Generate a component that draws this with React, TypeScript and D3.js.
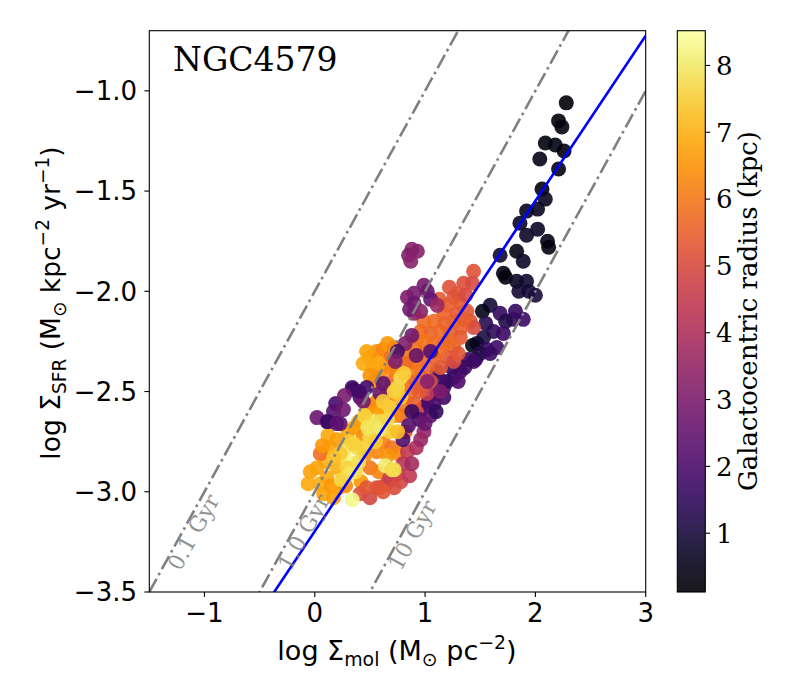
import React from 'react';
import * as d3 from 'd3';

// each point: [log Σmol, log ΣSFR, galactocentric radius (kpc)]
const nucleus = [
  [2.28, -1.06, 0.2], [2.21, -1.15, 0.3], [2.24, -1.18, 0.35], [2.09, -1.26, 0.3],
  [2.18, -1.27, 0.4], [2.26, -1.3, 0.3], [2.04, -1.34, 0.5], [2.21, -1.39, 0.4],
  [2.06, -1.49, 0.35], [2.09, -1.54, 0.6], [2.02, -1.59, 0.6], [1.92, -1.6, 0.55],
  [1.86, -1.66, 0.65], [2.02, -1.69, 0.65], [1.92, -1.72, 0.7], [2.11, -1.75, 0.5],
  [2.12, -1.78, 0.35], [1.83, -1.8, 0.4], [1.68, -1.82, 0.75], [1.89, -1.85, 0.7],
  [1.71, -1.91, 0.45], [1.73, -1.93, 0.3], [1.83, -1.95, 0.6], [1.92, -1.95, 0.8],
  [1.85, -2.0, 0.9], [1.94, -2.0, 0.95], [2.0, -2.02, 1.0],
];

const innerRing = [
  [1.59, -2.07, 0.9], [1.52, -2.1, 0.5], [1.68, -2.11, 1.5], [1.82, -2.1, 1.5],
  [1.8, -2.14, 1.6], [1.89, -2.14, 1.7], [1.73, -2.15, 1.2], [1.55, -2.16, 1.3],
  [1.62, -2.2, 1.4], [1.71, -2.21, 1.6], [1.53, -2.23, 1.1], [1.47, -2.26, 0.9],
  [1.56, -2.29, 1.5], [1.65, -2.28, 1.7], [1.43, -2.27, 0.5], [1.39, -2.34, 1.6],
  [1.46, -2.34, 1.8], [1.5, -2.31, 1.2], [1.59, -2.31, 1.6], [1.44, -2.35, 1.7],
  [1.32, -2.4, 1.9], [1.26, -2.43, 1.8], [1.17, -2.48, 2.0], [1.17, -2.53, 1.7],
  [1.11, -2.51, 2.1], [1.02, -2.56, 2.2], [1.11, -2.4, 2.3], [0.99, -2.58, 1.9],
  [1.2, -2.45, 1.5], [1.05, -2.62, 2.4], [1.36, -2.38, 1.7], [1.3, -2.45, 2.0],
  [1.08, -2.56, 2.0], [1.13, -2.44, 1.8], [1.1, -2.6, 1.5], [1.24, -2.38, 1.6],
];

const midDisk = [
  [1.44, -1.9, 5.2], [1.35, -1.96, 5.1], [1.43, -1.96, 5.0], [1.3, -2.01, 5.3],
  [1.26, -2.03, 5.2], [1.32, -2.06, 5.4], [1.2, -2.07, 5.5], [1.38, -2.1, 5.3],
  [1.41, -2.15, 5.2], [1.44, -2.18, 5.0], [1.33, -2.18, 5.5], [1.26, -2.15, 5.6],
  [1.17, -2.11, 5.6], [1.08, -2.15, 5.7], [0.99, -2.15, 5.8], [0.96, -2.2, 5.7],
  [1.05, -2.21, 5.6], [1.14, -2.2, 5.7], [1.23, -2.21, 5.5], [1.32, -2.23, 5.4],
  [1.26, -2.28, 5.6], [1.17, -2.26, 5.8], [1.08, -2.26, 5.7], [0.99, -2.25, 5.9],
  [0.93, -2.23, 6.0], [0.9, -2.28, 5.9], [0.99, -2.31, 5.7], [1.08, -2.33, 5.6],
  [1.2, -2.33, 5.3], [1.26, -2.35, 5.0], [1.14, -2.38, 5.4], [1.02, -2.38, 5.6],
  [0.93, -2.36, 5.8], [0.87, -2.35, 6.1], [0.84, -2.31, 6.0], [0.96, -2.43, 5.5],
  [1.05, -2.45, 5.0], [0.9, -2.48, 5.4], [1.02, -2.51, 4.4], [1.14, -2.5, 3.0],
  [1.13, -2.04, 5.4], [1.22, -1.98, 5.2], [1.37, -2.02, 5.0], [1.18, -2.16, 5.6],
  [1.29, -2.11, 5.4], [1.35, -2.14, 5.5], [1.22, -2.25, 5.7], [1.12, -2.3, 5.8],
  [1.3, -2.31, 5.3],
];

const armPurple = [
  [0.99, -1.97, 2.8], [0.9, -2.01, 2.9], [0.84, -2.03, 3.0], [0.9, -2.06, 2.7],
  [1.02, -2.0, 2.6], [1.05, -2.04, 2.5], [0.96, -2.1, 3.3], [0.9, -2.11, 3.4],
  [1.11, -2.07, 3.6], [0.86, -2.09, 2.8], [0.88, -1.79, 3.2], [0.85, -1.82, 3.1],
  [0.93, -1.8, 3.2], [0.87, -1.85, 3.3], [0.88, -2.22, 2.7], [0.92, -2.32, 2.5],
  [1.05, -2.3, 2.2], [0.82, -2.26, 3.1],
];

const outerOrange = [
  [0.5, -2.33, 6.6], [0.56, -2.3, 6.5], [0.62, -2.29, 6.3], [0.53, -2.38, 6.7],
  [0.59, -2.41, 6.4], [0.65, -2.36, 6.2], [0.47, -2.3, 6.8], [0.44, -2.36, 6.9],
  [0.69, -2.33, 5.8], [0.72, -2.55, 6.2], [0.53, -2.57, 6.5], [0.65, -2.58, 6.3],
  [0.47, -2.6, 6.6], [0.56, -2.55, 6.4], [0.4, -2.65, 6.8], [0.3, -2.7, 6.9],
  [0.36, -2.68, 6.7], [0.44, -2.72, 6.4], [0.62, -2.75, 6.1], [0.7, -2.78, 5.9],
  [0.78, -2.62, 5.7], [0.82, -2.7, 5.5], [0.56, -2.8, 6.3], [0.45, -2.82, 6.5],
  [0.5, -2.88, 6.0], [0.42, -2.95, 6.6], [0.26, -2.92, 6.9], [0.2, -2.88, 7.0],
  [0.14, -2.78, 6.8], [0.1, -2.85, 7.0], [0.05, -2.81, 5.8], [-0.04, -2.9, 6.8],
  [-0.06, -2.96, 6.9], [0.05, -2.96, 7.0], [0.11, -2.93, 6.9], [0.08, -3.01, 6.8],
  [0.17, -3.03, 6.7], [0.15, -2.97, 6.6], [0.22, -2.98, 6.8], [0.28, -2.97, 6.4],
  [0.58, -2.9, 6.2], [0.76, -2.81, 6.3], [0.66, -2.82, 6.5], [0.7, -2.45, 5.8],
  [0.85, -2.52, 5.9], [0.8, -2.58, 6.0], [0.9, -2.56, 5.5], [0.66, -2.5, 6.2],
  [0.92, -2.4, 6.0], [0.82, -2.36, 5.7], [0.74, -2.4, 6.0], [0.86, -2.45, 5.6],
  [0.95, -2.5, 5.4], [0.68, -2.38, 6.3], [0.8, -2.48, 6.1], [0.92, -2.6, 5.2],
  [0.72, -2.62, 6.4], [0.64, -2.62, 6.6], [0.6, -2.6, 6.8], [0.12, -2.72, 6.9],
  [0.2, -2.74, 6.7], [0.02, -2.88, 6.8], [0.07, -2.77, 6.6], [0.55, -2.45, 6.2],
  [0.5, -2.42, 6.5], [0.58, -2.36, 6.9], [0.66, -2.26, 6.6], [0.72, -2.28, 6.3],
];

const outerRed = [
  [0.41, -3.01, 5.1], [0.5, -3.03, 4.9], [0.56, -2.98, 5.0], [0.65, -2.96, 4.8],
  [0.59, -2.98, 5.2], [0.75, -2.91, 4.7], [0.84, -2.8, 4.5], [0.68, -2.93, 4.6],
  [0.47, -2.98, 5.3], [0.8, -2.86, 4.2], [0.78, -2.95, 4.9], [0.86, -2.92, 4.4],
  [0.92, -2.78, 4.0], [0.72, -2.98, 5.0], [0.62, -3.0, 5.3],
];

const scatteredPurple = [
  [0.75, -2.3, 1.9], [0.73, -2.35, 3.0], [0.62, -2.46, 2.4], [0.59, -2.51, 2.6],
  [0.47, -2.48, 1.8], [0.35, -2.49, 1.7], [0.41, -2.53, 2.0], [0.44, -2.55, 2.8],
  [0.95, -2.64, 2.0], [0.99, -2.7, 3.5], [0.96, -2.74, 3.6], [0.88, -2.86, 3.8],
  [0.85, -2.67, 2.2], [0.8, -2.74, 2.0], [0.88, -2.6, 1.6], [0.02, -2.63, 2.6],
  [0.11, -2.65, 2.5], [0.19, -2.56, 1.9], [0.17, -2.6, 2.2], [0.34, -2.48, 1.7],
  [0.4, -2.5, 1.8], [0.26, -2.59, 2.7], [0.23, -2.66, 2.4], [0.12, -2.65, 1.6],
  [0.2, -2.66, 2.3], [0.27, -2.52, 2.9], [1.0, -2.66, 2.6], [1.02, -2.45, 3.2],
];

const outerYellow = [
  [0.78, -2.43, 7.8], [0.75, -2.48, 7.7], [0.81, -2.41, 7.5], [0.78, -2.53, 7.4],
  [0.68, -2.58, 7.6], [0.52, -2.65, 7.9], [0.59, -2.65, 7.8], [0.68, -2.7, 7.5],
  [0.75, -2.7, 7.3], [0.53, -2.7, 7.9], [0.59, -2.69, 8.0], [0.5, -2.73, 7.7],
  [0.38, -2.78, 7.8], [0.31, -2.75, 7.4], [0.26, -2.8, 7.9], [0.31, -2.85, 8.2],
  [0.37, -2.9, 7.7], [0.29, -2.88, 7.6], [0.32, -2.91, 7.9], [0.23, -2.81, 7.5],
  [0.17, -2.83, 7.3], [0.35, -2.76, 7.6], [0.34, -3.04, 8.3], [0.64, -2.87, 8.1],
  [0.7, -2.89, 7.6], [0.72, -2.89, 7.8], [0.45, -2.62, 7.6], [0.62, -2.55, 7.5],
  [0.44, -2.78, 7.6], [0.4, -2.85, 7.8], [0.55, -2.75, 7.5], [0.66, -2.64, 7.7],
  [0.72, -2.5, 7.6], [0.48, -2.68, 7.9], [0.24, -2.94, 7.7],
];

const depletionTimes = [0.1, 1, 10];
const depletionLabels = ['0.1 Gyr', '1.0 Gyr', '10 Gyr'];
const fitSlope = 0.824;
const fitIntercept = -3.197;

const xTicks = [-1, 0, 1, 2, 3];
const yTicks = [-3.5, -3.0, -2.5, -2.0, -1.5, -1.0];
const radiusTicks = [1, 2, 3, 4, 5, 6, 7, 8];
const radiusRange = [0.12, 8.52];

const SANS = 'DejaVu Sans, sans-serif';
const SERIF = 'DejaVu Serif, serif';

// mathtext-like label: parts with optional sub/sup
function MathLabel({ parts, size, ...rest }) {
  let shift = 0;
  return (
    <text fontFamily={SANS} fontSize={size} textAnchor="middle" fill="#000" {...rest}>
      {parts.map(([t, kind], i) => {
        const target = kind === 'sub' ? size * 0.22 : kind === 'sup' ? -size * 0.4 : 0;
        const dy = target - shift;
        shift = target;
        return (
          <tspan key={i} dy={dy} fontSize={kind ? size * 0.7 : size}>{t}</tspan>
        );
      })}
    </text>
  );
}

export default function App() {
  const W = 800, H = 700;
  const left = 149.3, right = 645.7, top = 30.7, bottom = 592;
  const cbL = 677.3, cbR = 705.3;

  const x = d3.scaleLinear().domain([-1.5, 3]).range([left, right]);
  const y = d3.scaleLinear().domain([-3.5, -0.7]).range([bottom, top]);
  const cy = d3.scaleLinear().domain(radiusRange).range([bottom, top]);
  const color = d3.scaleSequential(d3.interpolateInferno).domain(radiusRange);

  const points = [
    ...nucleus, ...innerRing, ...midDisk, ...outerOrange, ...outerRed,
    ...armPurple, ...scatteredPurple, ...outerYellow,
  ];

  const line = d3.line().x(d => x(d[0])).y(d => y(d[1]));
  const xs = x.domain();

  const angle = Math.atan2(y(1) - y(0), x(1) - x(0)) * 180 / Math.PI;
  const labelY = -3.4;

  const stops = d3.range(0, 1.0001, 0.05);

  return (
    <svg width={W} height={H} style={{ position: 'absolute', left: 0, top: 0, background: '#fff' }}>
      <defs>
        <clipPath id="plot-clip">
          <rect x={left} y={top} width={right - left} height={bottom - top} />
        </clipPath>
        <linearGradient id="cbar" x1="0" y1="1" x2="0" y2="0">
          {stops.map(t => (
            <stop key={t} offset={t} stopColor={d3.interpolateInferno(t)} />
          ))}
        </linearGradient>
      </defs>
      <rect width={W} height={H} fill="#fff" />

      <g clipPath="url(#plot-clip)">
        {points.map((d, i) => (
          <circle key={i} cx={x(d[0])} cy={y(d[1])} r={7.5} fill={color(d[2])} fillOpacity={0.9} />
        ))}
        {depletionTimes.map(tau => (
          <path key={tau}
            d={line(xs.map(v => [v, v - 3 - Math.log10(tau)]))}
            fill="none" stroke="gray" strokeWidth={2.6}
            strokeDasharray="15 4.2 2.6 4.2" />
        ))}
        <path d={line(xs.map(v => [v, fitSlope * v + fitIntercept]))}
          fill="none" stroke="blue" strokeWidth={2.6} />
      </g>

      {depletionTimes.map((tau, i) => {
        const lx = x(labelY + 3 + Math.log10(tau) + 0.18);
        const ly = y(labelY);
        return (
          <text key={tau} x={lx} y={ly} transform={`rotate(${angle},${lx},${ly})`}
            fontFamily={SERIF} fontSize={22} fill="gray" fillOpacity={0.85}>
            {depletionLabels[i]}
          </text>
        );
      })}

      <rect x={left} y={top} width={right - left} height={bottom - top}
        fill="none" stroke="#000" strokeWidth={1.1} />

      {xTicks.map(t => (
        <g key={t}>
          <line x1={x(t)} x2={x(t)} y1={bottom} y2={bottom + 4.9} stroke="#000" strokeWidth={1.1} />
          <text x={x(t)} y={622} textAnchor="middle" fontFamily={SANS} fontSize={26}>
            {t < 0 ? `\u2212${Math.abs(t)}` : t}
          </text>
        </g>
      ))}
      {yTicks.map(t => (
        <g key={t}>
          <line x1={left - 4.9} x2={left} y1={y(t)} y2={y(t)} stroke="#000" strokeWidth={1.1} />
          <text x={137} y={y(t)} dy="0.36em" textAnchor="end" fontFamily={SANS} fontSize={26}>
            {`\u2212${Math.abs(t).toFixed(1)}`}
          </text>
        </g>
      ))}

      <text x={173} y={70.5} fontFamily={SERIF} fontSize={33}>NGC4579</text>

      <MathLabel x={397} y={660} size={27}
        parts={[['log \u03A3'], ['mol', 'sub'], [' (M'], ['\u2299', 'sub'], [' pc'], ['\u22122', 'sup'], [')']]} />
      <MathLabel x={0} y={0} size={26.5} transform="translate(60,303) rotate(-90)"
        parts={[['log \u03A3'], ['SFR', 'sub'], [' (M'], ['\u2299', 'sub'], [' kpc'], ['\u22122', 'sup'], [' yr'], ['\u22121', 'sup'], [')']]} />

      <rect x={cbL} y={top} width={cbR - cbL} height={bottom - top} fill="url(#cbar)" fillOpacity={0.9} />
      <rect x={cbL} y={top} width={cbR - cbL} height={bottom - top} fill="none" stroke="#000" strokeWidth={1.1} />
      {radiusTicks.map(t => (
        <g key={t}>
          <line x1={cbR} x2={cbR + 4.9} y1={cy(t)} y2={cy(t)} stroke="#000" strokeWidth={1.1} />
          <text x={716} y={cy(t)} dy="0.36em" fontFamily={SERIF} fontSize={26}>{t}</text>
        </g>
      ))}
      <text x={0} y={0} transform="translate(757,311) rotate(-90)" textAnchor="middle"
        fontFamily={SERIF} fontSize={26}>Galactocentric radius (kpc)</text>
    </svg>
  );
}
